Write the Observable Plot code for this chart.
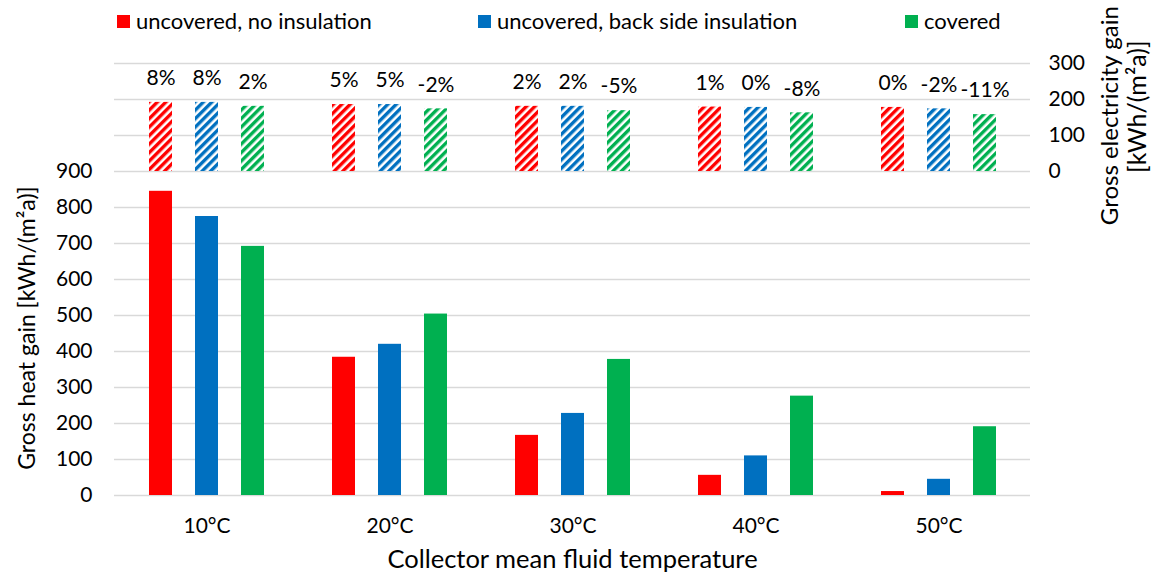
<!DOCTYPE html>
<html><head><meta charset="utf-8">
<script src="https://cdn.jsdelivr.net/npm/d3@7"></script>
<script src="https://cdn.jsdelivr.net/npm/@observablehq/plot@0.6"></script>
<style>
body{margin:0;background:#fff;font-family:Lato,"Open Sans",sans-serif;}
#legend{position:relative;height:40px;width:1157px;font-size:22px;color:#000}
.item{position:absolute;top:8px;height:26px;line-height:26px;display:flex;align-items:center;white-space:nowrap}
.sw{width:13px;height:13px;margin-right:6px}
#chart svg{overflow:visible;display:block}
</style></head><body>
<div id="legend"></div><div id="chart"></div>
<script>
const categories = ["10°C","20°C","30°C","40°C","50°C"];
const series = ["uncovered, no insulation","uncovered, back side insulation","covered"];
const colors = ["#ff0000","#0070c0","#00b050"];
// Gross heat gain [kWh/(m²a)]
const heatNoIns   = [845, 384, 167, 56, 11];
const heatBackIns = [775, 420, 228, 110, 45];
const heatCovered = [692, 504, 378, 276, 191];
// Gross electricity gain [kWh/(m²a)]
const elecNoIns   = [192, 186, 181, 179, 178];
const elecBackIns = [192, 186, 181, 178, 174];
const elecCovered = [181, 174, 169, 163, 158];
// labels above electricity bars
const pctNoIns   = ["8%","5%","2%","1%","0%"];
const pctBackIns = ["8%","5%","2%","0%","-2%"];
const pctCovered = ["2%","-2%","-5%","-8%","-11%"];
const leftTicks  = [0,100,200,300,400,500,600,700,800,900];
const rightTicks = [0,100,200,300];

const heat = [heatNoIns, heatBackIns, heatCovered];
const elec = [elecNoIns, elecBackIns, elecCovered];
const pct  = [pctNoIns, pctBackIns, pctCovered];
const elecBase = leftTicks[leftTicks.length - 1];
const rows = categories.flatMap((c, j) => series.map((s, i) => ({cat: c, series: s, si: i, heat: heat[i][j], elec: elec[i][j], pct: pct[i][j]})));
const grid = [...leftTicks, ...rightTicks.slice(1).map(d => d + elecBase)];

// legend
const legend = document.getElementById("legend");
const legendX = [117, 478, 905];
series.forEach((s, i) => {
  const it = document.createElement("div");
  it.className = "item"; it.style.left = legendX[i] + "px";
  it.innerHTML = `<span class="sw" style="background:${colors[i]}"></span><span>${s}</span>`;
  legend.appendChild(it);
});

const step = 46, fs = 21;
const marks = [Plot.ruleY(grid, {stroke: "#d9d9d9", strokeWidth: 1.5})];
series.forEach((s, i) => {
  const d = rows.filter(r => r.si === i);
  marks.push(Plot.barY(d, {x: "cat", y: "heat", fill: colors[i], dx: (i - 1) * step, insetLeft: 80, insetRight: 80}));
  marks.push(Plot.barY(d, {x: "cat", y1: () => elecBase, y2: r => elecBase + r.elec, fill: `url(#hatch${i})`, dx: (i - 1) * step, insetLeft: 80, insetRight: 80}));
  marks.push(Plot.text(d, {x: "cat", y: r => elecBase + r.elec, text: "pct", dx: (i - 1) * step, dy: -24, fontSize: fs}));
});
marks.push(
  Plot.axisY(leftTicks, {anchor: "left", tickSize: 0, tickPadding: 22, fontSize: fs, label: null}),
  Plot.axisY(rightTicks.map(d => d + elecBase), {anchor: "right", tickSize: 0, tickPadding: 18, fontSize: fs, tickFormat: d => d - elecBase, label: null}),
  Plot.axisX({tickSize: 0, tickPadding: 23, fontSize: fs, label: null}),
  Plot.text(["Gross heat gain [kWh/(m²a)]"], {frameAnchor: "left", y: () => elecBase / 2 + 15, dx: -87, rotate: -90, textAnchor: "middle", fontSize: 23}),
  Plot.text(["Gross electricity gain"], {frameAnchor: "right", y: () => elecBase + 155, dx: 80, rotate: -90, textAnchor: "middle", fontSize: 24}),
  Plot.text(["[kWh/(m²a)]"], {frameAnchor: "right", y: () => elecBase + 180, dx: 107, rotate: -90, textAnchor: "middle", fontSize: 25}),
  Plot.text(["Collector mean fluid temperature"], {frameAnchor: "bottom", dy: 72, fontSize: 25.5})
);

const svg = Plot.plot({
  width: 1157, height: 543,
  marginTop: 23, marginBottom: 88, marginLeft: 114, marginRight: 127,
  style: {fontFamily: "Lato, 'Open Sans', sans-serif", fontSize: "21px", color: "#000", background: "#fff"},
  x: {domain: categories, padding: 0},
  y: {domain: [0, elecBase + rightTicks[rightTicks.length - 1]]},
  marks
});
const defs = d3.select(svg).insert("defs", ":first-child");
colors.forEach((c, i) => {
  const p = defs.append("pattern").attr("id", `hatch${i}`).attr("patternUnits", "userSpaceOnUse")
    .attr("width", 6).attr("height", 6).attr("patternTransform", "rotate(45)");
  p.append("rect").attr("width", 6).attr("height", 6).attr("fill", "#fff");
  p.append("rect").attr("width", 3.4).attr("height", 6).attr("fill", c);
});
document.getElementById("chart").appendChild(svg);
</script>
</body></html>
